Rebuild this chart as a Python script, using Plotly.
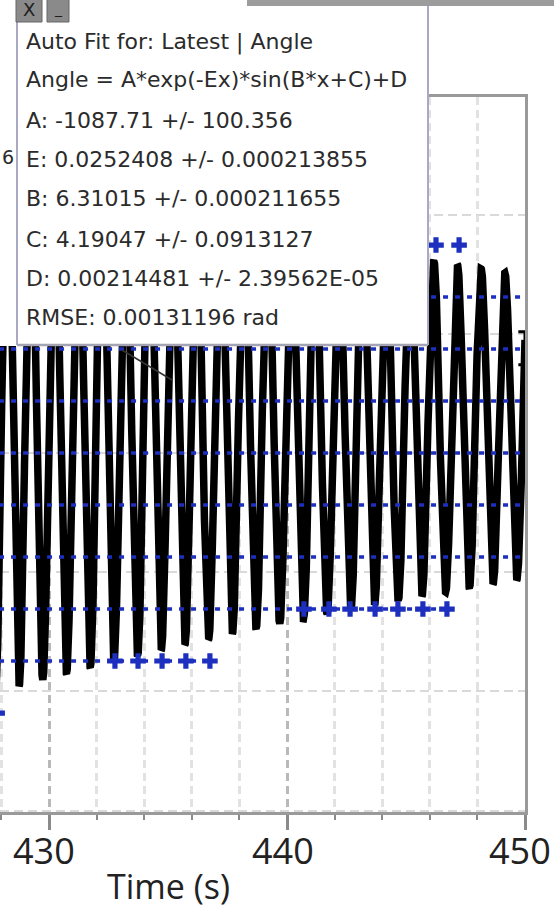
import numpy as np
import plotly.graph_objects as go

W, H = 554, 909

# ---- fit parameters shown in the fit box ----
fit_A = -1087.71
fit_E = 0.0252408
fit_B = 6.31015
fit_C = 4.19047
fit_D = 0.00214481
fit_t_start = 427.5
fit_t_end = 450.0

# ---- box text ----
box_lines = [
    "Auto Fit for: Latest | Angle",
    "Angle = A*exp(-Ex)*sin(B*x+C)+D",
    "A: -1087.71 +/- 100.356",
    "E: 0.0252408 +/- 0.000213855",
    "B: 6.31015 +/- 0.000211655",
    "C: 4.19047 +/- 0.0913127",
    "D: 0.00214481 +/- 2.39562E-05",
    "RMSE: 0.00131196 rad",
]

# ---- measured data (quantized angle levels, rad) ----
level_values = [0.01309, 0.00873, 0.00436, 0.0, -0.00436, -0.00873, -0.01309, -0.01745]
level_t_start = [427.9, 427.9, 427.9, 427.9, 427.9, 427.9, 427.9, 427.9]
level_t_end = [450.0, 450.0, 450.0, 450.0, 450.0, 450.0, 446.72, 436.76]

# isolated data points at extreme levels
pt_time = [446.26, 447.23,
           440.71, 441.76, 442.65, 443.70, 444.66, 445.71, 446.72,
           432.77, 433.74, 434.75, 435.75, 436.76,
           427.82]
pt_angle = [0.01745, 0.01745,
            -0.01309, -0.01309, -0.01309, -0.01309, -0.01309, -0.01309, -0.01309,
            -0.01745, -0.01745, -0.01745, -0.01745, -0.01745,
            -0.02182]

x_range = [427.94, 450.0]
y_range = [-0.03012, 0.02987]
x_major_ticks = [430, 440, 450]
x_tick_label_px = [44, 283, 520]


def px(x):
    return x / W


def py(y):
    return 1 - y / H


BLUE = "#1c2fbf"
BOX_LINE = "#a9a9c4"

t_fit = np.linspace(fit_t_start, fit_t_end, 8000)
angle_fit = fit_A * np.exp(-fit_E * t_fit) * np.sin(fit_B * t_fit + fit_C) + fit_D

fig = go.Figure()
fig.add_trace(go.Scatter(x=t_fit, y=angle_fit, mode="lines",
                         line=dict(color="black", width=7.5), hoverinfo="skip",
                         showlegend=False))

lx, ly = [], []
for v, a, b in zip(level_values, level_t_start, level_t_end):
    lx += [a, b, None]
    ly += [v, v, None]
fig.add_trace(go.Scatter(x=lx, y=ly, mode="lines",
                         line=dict(color=BLUE, width=3.5, dash="5px,7px"),
                         showlegend=False, hoverinfo="skip"))
fig.add_trace(go.Scatter(x=pt_time, y=pt_angle, mode="markers",
                         marker=dict(symbol="cross", size=13, color=BLUE,
                                     line=dict(width=0)),
                         showlegend=False, hoverinfo="skip"))

shapes = []
# fit box (white panel reaching the left edge) and its borders
shapes.append(dict(type="rect", xref="paper", yref="paper",
                   x0=px(-5), x1=px(428), y0=py(346), y1=py(-5),
                   fillcolor="white", line=dict(width=0), layer="above"))
shapes.append(dict(type="line", xref="paper", yref="paper",
                   x0=px(17), x1=px(17), y0=py(345), y1=py(-5),
                   line=dict(color=BOX_LINE, width=2), layer="above"))
shapes.append(dict(type="line", xref="paper", yref="paper",
                   x0=px(428), x1=px(428), y0=py(345), y1=py(-5),
                   line=dict(color=BOX_LINE, width=2), layer="above"))
shapes.append(dict(type="line", xref="paper", yref="paper",
                   x0=px(17), x1=px(428), y0=py(345), y1=py(345),
                   line=dict(color="#a4a4b4", width=2.5), layer="above"))
# window bar top right
shapes.append(dict(type="rect", xref="paper", yref="paper",
                   x0=px(247), x1=px(556), y0=py(6), y1=py(-2),
                   fillcolor="#9c9c9c", line=dict(width=0), layer="above"))
# close / minimize buttons
shapes.append(dict(type="rect", xref="paper", yref="paper",
                   x0=px(16), x1=px(42), y0=py(22), y1=py(-2),
                   fillcolor="#8a8a8a", line=dict(color="#666666", width=1),
                   layer="above"))
shapes.append(dict(type="rect", xref="paper", yref="paper",
                   x0=px(47), x1=px(69), y0=py(22), y1=py(-2),
                   fillcolor="#8a8a8a", line=dict(color="#666666", width=1),
                   layer="above"))
# fit range bracket at the end of the fit
shapes.append(dict(type="path", xref="x", yref="y",
                   path="M 449.72 0.01018 L 450.0 0.01018 L 450.0 0.00741 L 449.72 0.00741",
                   line=dict(color="black", width=3), layer="above"))
# callout line from box
shapes.append(dict(type="line", xref="paper", yref="paper",
                   x0=px(122), y0=py(350), x1=px(172), y1=py(380),
                   line=dict(color="#333333", width=1.5), layer="above"))

annotations = []
line_y = [42, 80, 120, 160, 199, 239, 278, 317]
for txt, yy in zip(box_lines, line_y):
    annotations.append(dict(text=txt, xref="paper", yref="paper",
                            x=px(24), y=py(yy), xanchor="left", yanchor="middle",
                            showarrow=False,
                            font=dict(family="DejaVu Sans", size=22, color="#2b2b2b")))
annotations.append(dict(text="6", xref="paper", yref="paper", x=px(0), y=py(157),
                        xanchor="left", yanchor="middle", showarrow=False,
                        font=dict(family="DejaVu Sans", size=19, color="#2b2b2b")))
annotations.append(dict(text="X", xref="paper", yref="paper", x=px(29), y=py(10),
                        xanchor="center", yanchor="middle", showarrow=False,
                        font=dict(family="DejaVu Sans", size=18, color="#1e1e1e")))
annotations.append(dict(text="_", xref="paper", yref="paper", x=px(58), y=py(9),
                        xanchor="center", yanchor="middle", showarrow=False,
                        font=dict(family="DejaVu Sans", size=14, color="#1e1e1e")))
for v, xp in zip(x_major_ticks, x_tick_label_px):
    annotations.append(dict(text=str(v), xref="paper", yref="paper", x=px(xp), y=py(850),
                            xanchor="center", yanchor="middle", showarrow=False,
                            font=dict(family="Open Sans", size=36, color="#222222")))
annotations.append(dict(text="Time (s)", xref="paper", yref="paper", x=px(168), y=py(886),
                        xanchor="center", yanchor="middle", showarrow=False,
                        font=dict(family="Open Sans", size=34, color="#222222")))

fig.update_layout(
    width=W, height=H, margin=dict(l=0, r=0, t=0, b=0),
    paper_bgcolor="white", plot_bgcolor="white",
    shapes=shapes, annotations=annotations, showlegend=False,
    xaxis=dict(domain=[0, px(525)], range=x_range, tickvals=x_major_ticks,
               showticklabels=False,
               ticks="outside", ticklen=15, tickwidth=3, tickcolor="#8a8a8a",
               showline=True, linecolor="#9a9a9a", linewidth=2.5, mirror=True,
               showgrid=True, gridcolor="#b9b9b9", gridwidth=2.5, griddash="8px,5px",
               zeroline=False,
               minor=dict(dtick=2, tick0=430, ticks="outside", ticklen=5, tickwidth=2,
                          tickcolor="#8a8a8a", showgrid=True, gridcolor="#e2e2e2",
                          gridwidth=2.5, griddash="8px,5px")),
    yaxis=dict(domain=[py(812), py(97)], range=y_range, dtick=0.01, tick0=0,
               side="right", showticklabels=False, ticks="",
               showline=True, linecolor="#9a9a9a", linewidth=2.5,
               showgrid=True, gridcolor="#d9d9d9", gridwidth=2, griddash="9px,5px",
               zeroline=False),
)

fig.write_html("out.html")
